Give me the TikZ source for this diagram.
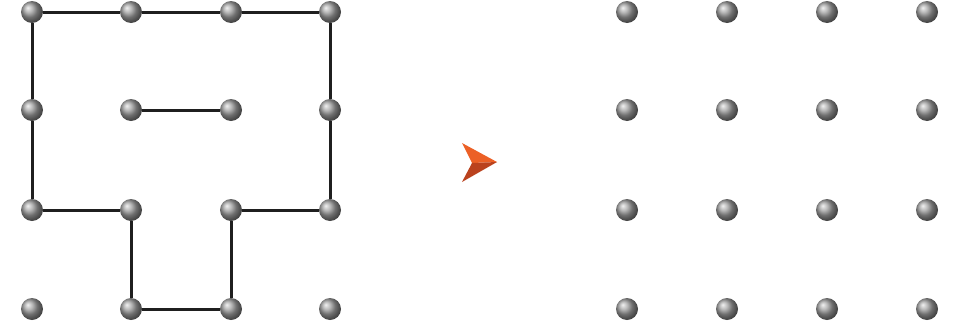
\documentclass[tikz,border=0pt]{standalone}
\usepackage{tikz}

\definecolor{arrowlight}{RGB}{236,96,38}
\definecolor{arrowdark}{RGB}{186,66,30}

\begin{document}
\begin{tikzpicture}[
  x=1pt,
  y=-1pt,
  dot/.style={circle, inner sep=0pt, minimum size=22pt, shade, ball color=gray!75},
  wire/.style={draw=black!88, line width=3pt},
  tipup/.style={fill=arrowlight},
  tipdown/.style={fill=arrowdark}
]
  \useasboundingbox (0,0) rectangle (962,327);

  \foreach \i/\x in {0/32,1/131,2/231,3/330} {
    \foreach \j/\y in {0/12,1/110,2/210,3/309} {
      \node[dot] (L\i\j) at (\x,\y) {};
    }
  }
  \foreach \i/\x in {0/627,1/727,2/827,3/927} {
    \foreach \j/\y in {0/12,1/110,2/210,3/309} {
      \node[dot] (R\i\j) at (\x,\y) {};
    }
  }

  \draw[wire] (L00) -- (L10) -- (L20) -- (L30) -- (L31) -- (L32) -- (L22)
    -- (L23) -- (L13) -- (L12) -- (L02) -- (L01) -- (L00);
  \draw[wire] (L11) -- (L21);

  \fill[tipup] (462,143) -- (497,162) -- (472,163) -- cycle;
  \fill[tipdown] (472,163) -- (497,162) -- (462,182) -- cycle;
\end{tikzpicture}
\end{document}
